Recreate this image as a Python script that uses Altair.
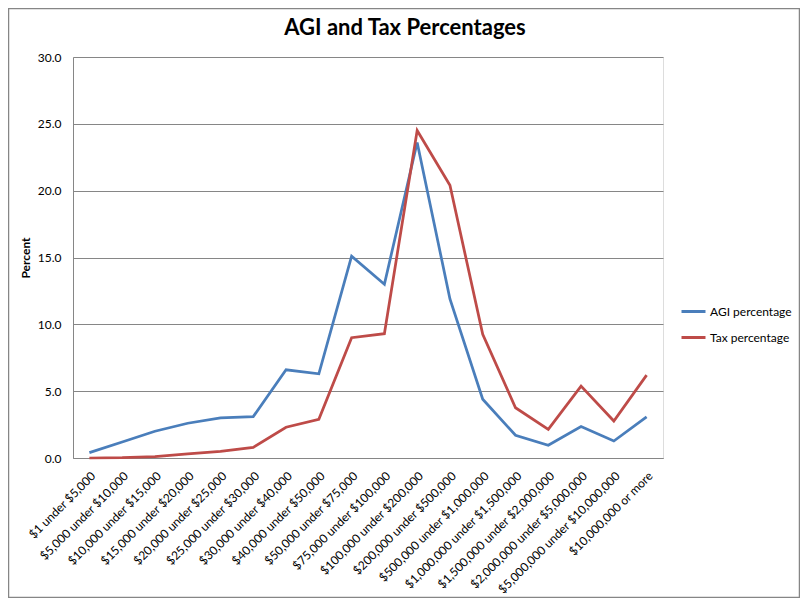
import altair as alt
import pandas as pd

categories = [
    "$1 under $5,000", "$5,000 under $10,000", "$10,000 under $15,000",
    "$15,000 under $20,000", "$20,000 under $25,000", "$25,000 under $30,000",
    "$30,000 under $40,000", "$40,000 under $50,000", "$50,000 under $75,000",
    "$75,000 under $100,000", "$100,000 under $200,000", "$200,000 under $500,000",
    "$500,000 under $1,000,000", "$1,000,000 under $1,500,000",
    "$1,500,000 under $2,000,000", "$2,000,000 under $5,000,000",
    "$5,000,000 under $10,000,000", "$10,000,000 or more",
]
agi_pct = [0.4, 1.2, 2.0, 2.6, 3.0, 3.1, 6.6, 6.3, 15.1, 13.0, 23.6, 11.9, 4.4, 1.7, 0.95, 2.35, 1.27, 3.07]
tax_pct = [0.0, 0.02, 0.1, 0.3, 0.5, 0.8, 2.3, 2.9, 9.0, 9.3, 24.5, 20.4, 9.25, 3.76, 2.14, 5.38, 2.77, 6.2]
series_names = ["AGI percentage", "Tax percentage"]
series_colors = ["#4A7EBB", "#BE4B48"]
chart_title = "AGI and Tax Percentages"

rows = []
for i, c in enumerate(categories):
    rows.append({"bracket": c, "series": series_names[0], "value": agi_pct[i], "order": i})
    rows.append({"bracket": c, "series": series_names[1], "value": tax_pct[i], "order": i})
df = pd.DataFrame(rows)

FONT = "Lato"
W, H = 590, 401
PL, PT, PR, PB = 65, 49, 137, 140

lines = alt.Chart(df).mark_line(strokeWidth=2.75, strokeJoin="miter").encode(
    x=alt.X("bracket:O", sort=categories, scale=alt.Scale(padding=0.5),
            axis=alt.Axis(title=None, labelAngle=-45, ticks=False, domain=True,
                          domainColor="#868686", labelFont=FONT, labelFontSize=12,
                          labelColor="#000000", labelPadding=12, grid=False,
                          labelOverlap=False, labelLimit=300)),
    y=alt.Y("value:Q", scale=alt.Scale(domain=[0, 30], nice=False),
            axis=alt.Axis(title="Percent", values=[0, 5, 10, 15, 20, 25, 30], format=".1f",
                          ticks=False, domain=True, domainColor="#868686",
                          gridColor="#868686", gridWidth=1, labelFont=FONT,
                          labelFontSize=12, labelColor="#000000", labelPadding=12,
                          titleFont=FONT, titleFontSize=12, titleFontWeight="bold",
                          titleColor="#000000", titlePadding=5)),
    color=alt.Color("series:N", scale=alt.Scale(domain=series_names, range=series_colors),
                    legend=alt.Legend(title=None, orient="none", legendX=607, legendY=241,
                                      symbolType="stroke", symbolSize=576,
                                      symbolStrokeWidth=3, labelFont=FONT,
                                      labelFontSize=12, labelColor="#000000",
                                      rowPadding=6, labelOffset=3)),
    order="order:Q",
)

border = alt.Chart(pd.DataFrame({"a": [0]})).mark_rect(
    fill=None, stroke="#868686", strokeWidth=1.5
).encode(
    x=alt.value(-PL + 0.5), x2=alt.value(W + PR - 0.5),
    y=alt.value(-PT + 0.5), y2=alt.value(H + PB - 0.5),
)

title = alt.Chart(pd.DataFrame({"t": [chart_title]})).mark_text(
    font=FONT, fontSize=22, fontWeight="bold", color="#000000",
    align="center", baseline="alphabetic"
).encode(text="t:N", x=alt.value(332), y=alt.value(-22))

chart = alt.layer(border, lines, title).properties(
    width=W, height=H,
    padding={"left": PL, "top": PT, "right": PR, "bottom": PB},
    autosize=alt.AutoSizeParams(type="none"),
).configure_view(stroke=None).configure(background="white")

chart.save("out.html", embed_options={"renderer": "svg", "actions": False})
